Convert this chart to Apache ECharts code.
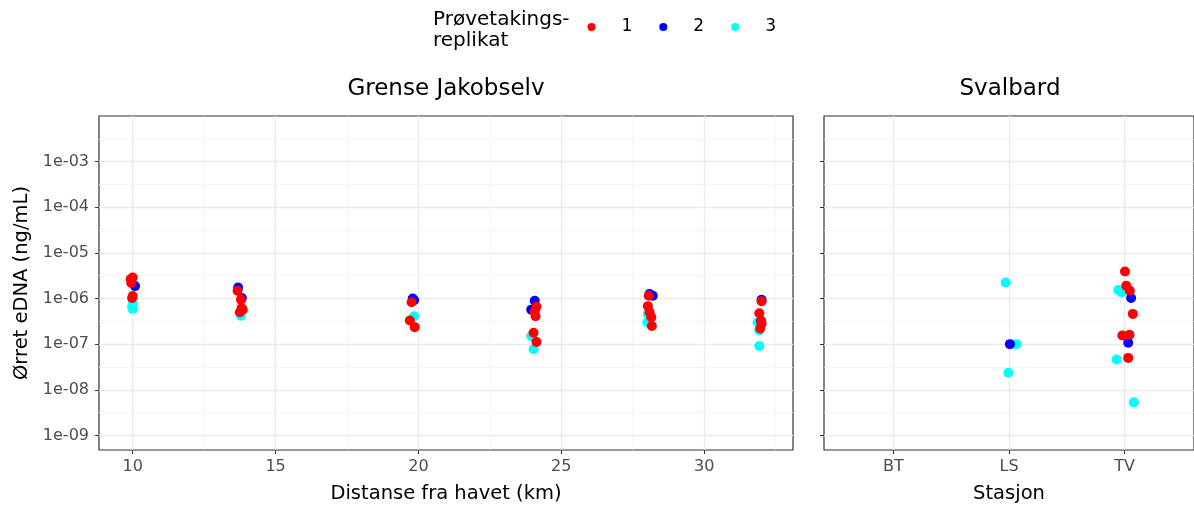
<!DOCTYPE html>
<html>
<head>
<meta charset="utf-8">
<script src="https://cdn.jsdelivr.net/npm/echarts@6/dist/echarts.min.js"></script>
<style>
  html, body { margin: 0; padding: 0; background: #fff; }
  #container { width: 1194px; height: 509px; }
</style>
</head>
<body>
<div id="container"></div>
<script>
var dom = document.getElementById('container');
var myChart = echarts.init(dom);

// Grense Jakobselv: distance (km) and eDNA (ng/mL), one array per replicate
var gjKm1  = [9.93, 10.0, 9.95, 10.0, 9.98, 13.67, 13.79, 13.81, 13.75, 13.85, 19.76, 19.70, 19.87, 24.13, 24.10, 24.03, 24.13, 24.07, 28.06, 28.03, 28.09, 28.15, 28.17, 32.01, 31.93, 32.01, 31.96, 32.0];
var gjVal1 = [2.66e-6, 2.9e-6, 2.2e-6, 1.13e-6, 1.03e-6, 1.48e-6, 9.4e-7, 6.2e-7, 5.0e-7, 5.7e-7, 8.3e-7, 3.3e-7, 2.36e-7, 6.6e-7, 4.1e-7, 1.77e-7, 1.11e-7, 5.2e-7, 1.15e-6, 6.8e-7, 5.0e-7, 3.9e-7, 2.5e-7, 8.7e-7, 4.76e-7, 2.8e-7, 2.2e-7, 3.2e-7];
var gjKm2  = [10.08, 13.69, 13.82, 19.80, 19.85, 24.07, 23.95, 28.09, 28.20, 32.01, 31.99];
var gjVal2 = [1.87e-6, 1.75e-6, 1.03e-6, 1.0e-6, 9.2e-7, 8.9e-7, 5.7e-7, 1.25e-6, 1.15e-6, 9.4e-7, 3.2e-7];
var gjKm3  = [10.0, 10.0, 9.98, 13.78, 19.85, 23.95, 24.03, 28.03, 28.01, 31.87, 31.93, 31.93];
var gjVal3 = [7.6e-7, 5.9e-7, 6.5e-7, 4.2e-7, 4.1e-7, 1.5e-7, 7.7e-8, 4.6e-7, 3.0e-7, 3.03e-7, 2.0e-7, 9.1e-8];

// Svalbard: station position (1 = BT, 2 = LS, 3 = TV, with jitter) and eDNA
var stations = ['BT', 'LS', 'TV'];
var svPos1 = [3.003, 3.014, 3.045, 3.071, 2.98, 3.042, 3.031];
var svVal1 = [3.9e-6, 1.9e-6, 1.48e-6, 4.6e-7, 1.55e-7, 1.6e-7, 5.0e-8];
var svPos2 = [2.008, 3.056, 3.031];
var svVal2 = [1.0e-7, 1.03e-6, 1.07e-7];
var svPos3 = [1.971, 2.065, 1.994, 2.945, 2.974, 2.931, 3.08];
var svVal3 = [2.25e-6, 1.0e-7, 2.36e-8, 1.53e-6, 1.36e-6, 4.6e-8, 5.3e-9];

var replicates = ['1', '2', '3'];
var repColors = ['#FF0000', '#0000FF', '#00FFFF'];

var yMajor = [-9, -8, -7, -6, -5, -4, -3];
var yMinor = [-8.5, -7.5, -6.5, -5.5, -4.5, -3.5, -2.5];
var xMajor = [10, 15, 20, 25, 30];
var xMinor = [12.5, 17.5, 22.5, 27.5, 32.5];

var FONT = 'DejaVu Sans';

function pairs(xs, vs) {
    return xs.map(function (x, i) { return [x, Math.log10(vs[i])]; });
}

var majorLine = { show: true, lineStyle: { color: '#EBEBEB', width: 1.4 } };
var minorLine = { show: true, lineStyle: { color: '#F2F2F2', width: 0.8 } };
var tickLine = { color: '#333', width: 1 };

function yMain(grid, showLabels, name) {
    return {
        type: 'value', gridIndex: grid, min: -9.32, max: -2,
        name: name, nameLocation: 'middle', nameGap: 66,
        nameTextStyle: { fontFamily: FONT, fontSize: 19.5, color: '#000' },
        axisLine: { show: false },
        axisTick: { show: true, customValues: yMajor, length: 4, lineStyle: tickLine },
        axisLabel: { show: showLabels, customValues: yMajor, margin: 10, fontFamily: FONT, fontSize: 16, color: '#4D4D4D',
            formatter: function (v) { return '1e-0' + Math.round(-v); } },
        splitLine: majorLine, z: 1
    };
}
function yMinorAxis(grid) {
    return {
        type: 'value', gridIndex: grid, min: -9.32, max: -2, position: 'right',
        axisLine: { show: false }, axisLabel: { show: false },
        axisTick: { show: false, customValues: yMinor },
        splitLine: minorLine, z: 0
    };
}

var series = [];
var drawOrder = [2, 1, 0];
drawOrder.forEach(function (r) {
    var gjData = [pairs(gjKm1, gjVal1), pairs(gjKm2, gjVal2), pairs(gjKm3, gjVal3)][r];
    var svData = [pairs(svPos1, svVal1), pairs(svPos2, svVal2), pairs(svPos3, svVal3)][r];
    series.push({
        name: replicates[r], type: 'scatter', xAxisIndex: 0, yAxisIndex: 0,
        symbolSize: 10, itemStyle: { color: repColors[r], opacity: 1 },
        z: 3 + (2 - r), data: gjData
    });
    series.push({
        name: replicates[r], type: 'scatter', xAxisIndex: 2, yAxisIndex: 2,
        symbolSize: 10, itemStyle: { color: repColors[r], opacity: 1 },
        z: 3 + (2 - r), data: svData
    });
});

var option = {
    backgroundColor: '#fff',
    animation: false,
    textStyle: { fontFamily: FONT },
    grid: [
        { left: 99, right: 401, top: 116, bottom: 57, show: true, backgroundColor: '#fff', borderColor: '#333', borderWidth: 1.2 },
        { left: 824, right: -3, top: 116, bottom: 57, show: true, backgroundColor: '#fff', borderColor: '#333', borderWidth: 1.2 }
    ],
    xAxis: [
        {
            type: 'value', gridIndex: 0, min: 8.82, max: 33.11,
            name: 'Distanse fra havet (km)', nameLocation: 'middle', nameGap: 34,
            nameTextStyle: { fontFamily: FONT, fontSize: 19.5, color: '#000' },
            axisLine: { show: false },
            axisTick: { show: true, customValues: xMajor, length: 4, lineStyle: tickLine },
            axisLabel: { customValues: xMajor, margin: 9, fontFamily: FONT, fontSize: 16, color: '#4D4D4D' },
            splitLine: majorLine, z: 1
        },
        {
            type: 'value', gridIndex: 0, min: 8.82, max: 33.11, position: 'top',
            axisLine: { show: false }, axisLabel: { show: false },
            axisTick: { show: false, customValues: xMinor },
            splitLine: minorLine, z: 0
        },
        {
            type: 'value', gridIndex: 1, min: 0.4, max: 3.6,
            name: 'Stasjon', nameLocation: 'middle', nameGap: 34,
            nameTextStyle: { fontFamily: FONT, fontSize: 19.5, color: '#000' },
            axisLine: { show: false },
            axisTick: { show: true, customValues: [1, 2, 3], length: 4, lineStyle: tickLine },
            axisLabel: { customValues: [1, 2, 3], margin: 9, fontFamily: FONT, fontSize: 16, color: '#4D4D4D',
                formatter: function (v) { return stations[Math.round(v) - 1]; } },
            splitLine: majorLine, z: 1
        }
    ],
    yAxis: [
        yMain(0, true, 'Ørret eDNA (ng/mL)'),
        yMinorAxis(0),
        yMain(1, false, ''),
        yMinorAxis(1)
    ],
    legend: {
        data: replicates,
        left: 582.5, top: 12,
        icon: 'circle', itemWidth: 8, itemHeight: 8, itemGap: 27,
        textStyle: { fontFamily: FONT, fontSize: 17, color: '#000', padding: [0, 0, 0, 21], lineHeight: 20 },
        selectedMode: false
    },
    graphic: [
        { type: 'text', left: 433, top: 9, style: { text: 'Prøvetakings-\nreplikat', font: '20px "DejaVu Sans"', fill: '#000', lineHeight: 21 } },
        { type: 'text', x: 446, y: 89, style: { text: 'Grense Jakobselv', font: '23px "DejaVu Sans"', fill: '#000', textAlign: 'center', textVerticalAlign: 'middle' } },
        { type: 'text', x: 1010, y: 89, style: { text: 'Svalbard', font: '23px "DejaVu Sans"', fill: '#000', textAlign: 'center', textVerticalAlign: 'middle' } }
    ],
    series: series
};

myChart.setOption(option);
</script>
</body>
</html>
